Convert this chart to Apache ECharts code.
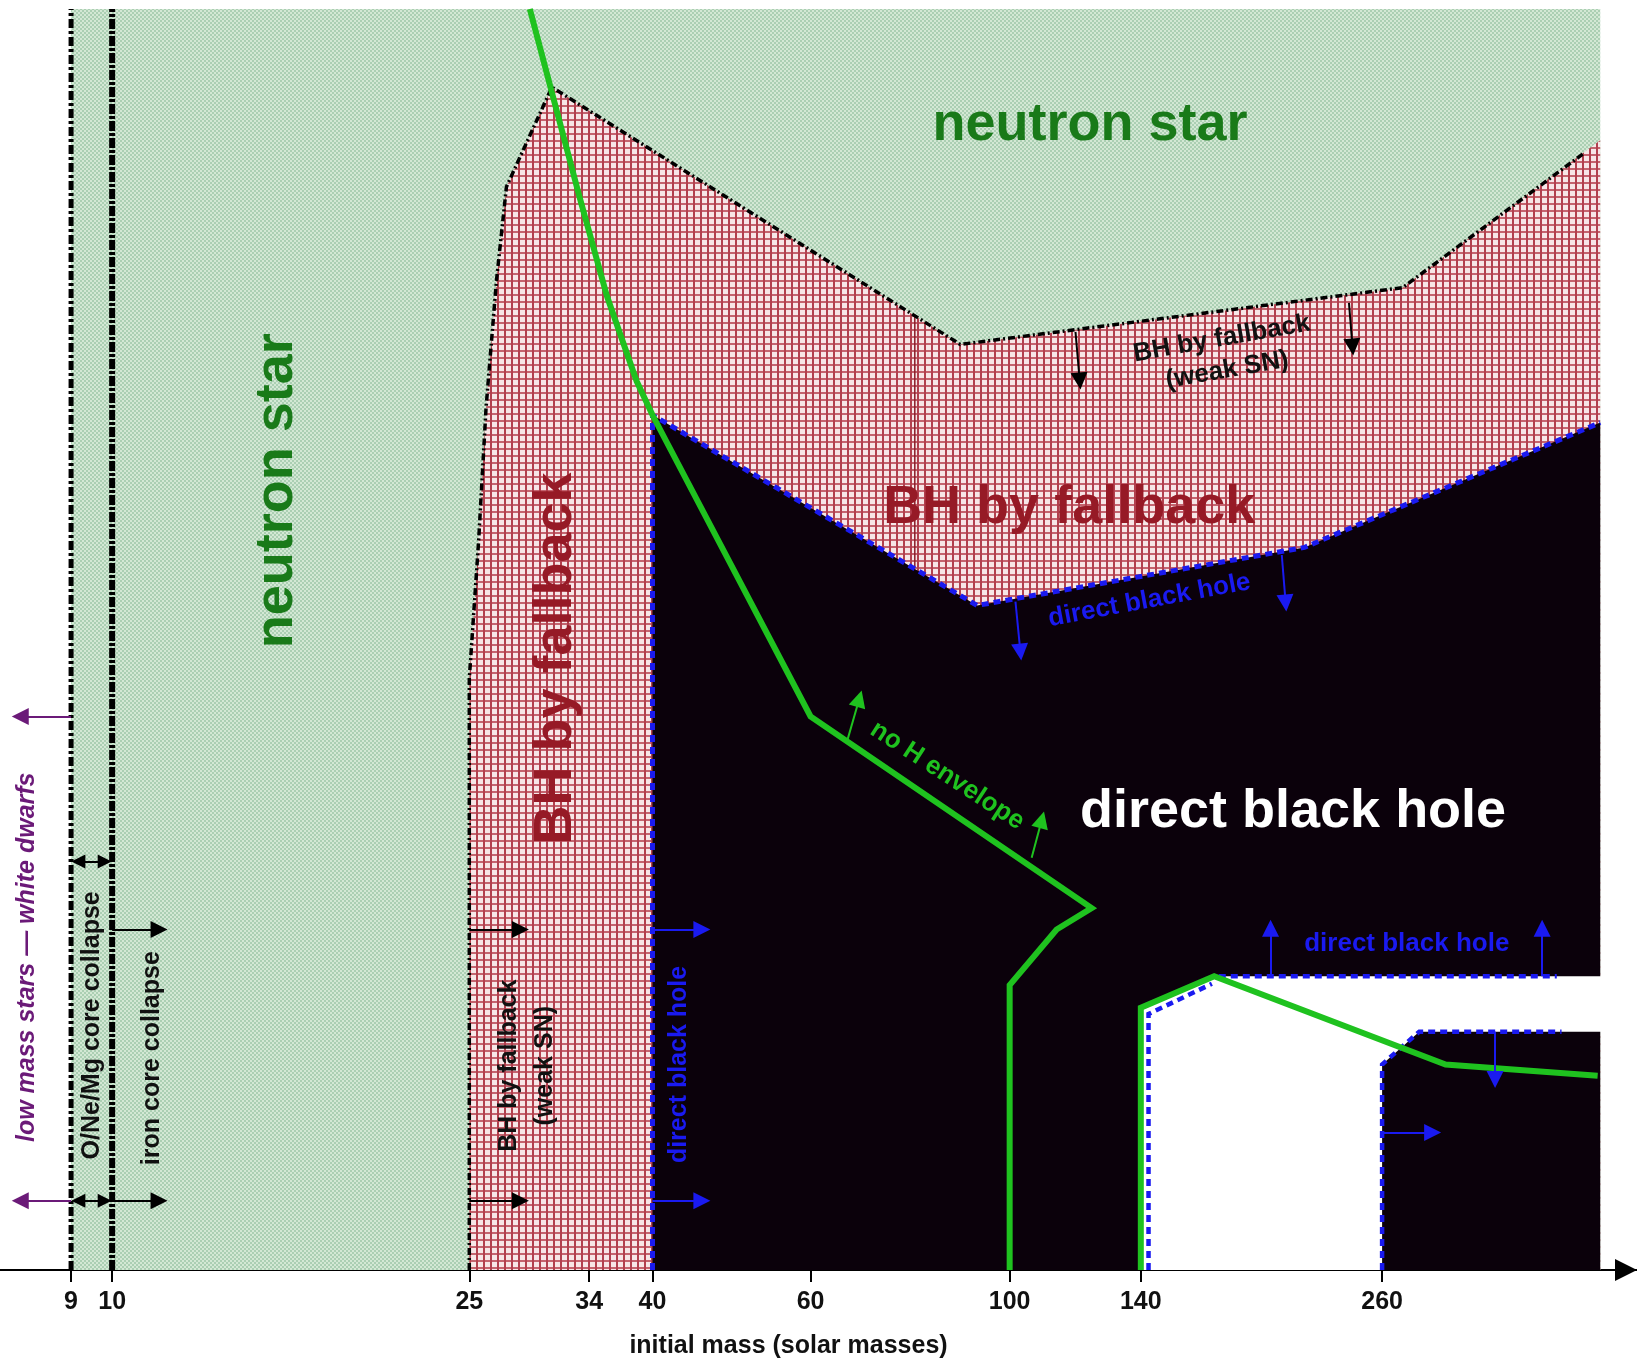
<!DOCTYPE html>
<html>
<head>
<meta charset="utf-8">
<title>Remnants of massive single stars</title>
<script src="https://cdn.jsdelivr.net/npm/echarts@6/dist/echarts.min.js"></script>
<style>
  html, body { margin: 0; padding: 0; background: #ffffff; }
  #chart { width: 1637px; height: 1364px; }
</style>
</head>
<body>
<div id="chart"></div>
<script>
// ---- axis: initial mass (solar masses), drawn on a logarithmic scale ----
const massTicks = [9, 10, 25, 34, 40, 60, 100, 140, 260];
const massRange = [7.5, 500];

// ---- remnant regions: [initial mass, level (0 = bottom, 100 = top)] ----
const neutronStarRegion = [[9, 0], [9, 100], [455, 100], [455, 0]];
const fallbackRegion = [[25, 0], [25, 46.9], [25.6, 57.7], [26.1, 68.4], [26.8, 78.4], [27.5, 85.9],
  [30.9, 93.8], [88.1, 73.4], [274, 77.9], [455, 89.6], [455, 0]];
const directBHRegion = [[40, 0], [40, 67.8], [92, 52.7], [213, 57.3], [455, 67.2], [455, 0]];
const pairRegion = [[140, 0], [140, 20.8], [169, 23.3], [460, 23.3], [460, 18.9], [286, 18.9], [260, 16.3], [260, 0]];

// ---- boundaries ----
const oneMgLimit = [[9, 0], [9, 100]];
const ironLimit = [[10, 0], [10, 100]];
const fallbackEdge = [[25, 0], [25, 46.9], [25.6, 57.7], [26.1, 68.4], [26.8, 78.4], [27.5, 85.9],
  [30.9, 93.8], [88.1, 73.4], [274, 77.9], [437, 88.6]];
const fallbackSeam = [[78.4, 75.6], [78.4, 55.7]];
const directEdge = [[40, 0], [40, 67.8], [92, 52.7], [213, 57.3], [455, 67.2]];
const pairEdgeLeft = [[142.8, 0], [142.8, 20.3], [168, 22.7]];
const pairEdgeTop = [[171, 23.3], [407, 23.3]];
const pairEdgeRight = [[260, 0], [260, 16.3], [286, 18.9], [412, 18.9]];
const noHEnvelopeUpper = [[29.2, 100], [31.0, 93.0], [33.2, 85.0], [35.6, 77.2], [38.4, 70.5], [40, 67.8],
  [60, 43.9], [123.4, 28.7], [112.8, 27.0], [100, 22.6], [100, 0]];
const noHEnvelopeLower = [[140, 0], [140, 20.8], [169, 23.3], [306, 16.3], [452, 15.4]];

// ---- arrows: [from mass, from level, to mass, to level] ----
const purpleArrows = [[9, 43.9, 7.9, 43.9], [9, 5.5, 7.9, 5.5]];
const blackDoubleArrows = [[9.17, 32.4, 9.81, 32.4], [9.17, 5.5, 9.81, 5.5]];
const blackArrows = [[10, 27, 11.28, 27], [10, 5.5, 11.28, 5.5], [25, 27, 28.5, 27], [25, 5.5, 28.5, 5.5],
  [118.4, 74.4, 119.7, 70.5], [238.8, 76.7, 241, 73.2]];
const blueArrows = [[40, 27, 45.4, 27], [40, 5.5, 45.4, 5.5], [260, 10.9, 296, 10.9],
  [195.3, 23.3, 195.3, 27.1], [392, 23.3, 392, 27.1], [347.4, 18.9, 347.4, 15.1],
  [101.5, 53.0, 102.8, 49.0], [201, 56.7, 203, 52.9]];
const greenArrows = [[66, 42.1, 68, 45.3], [105.8, 32.7, 108.6, 35.7]];

// ---- labels ----
const GREEN_DARK = '#197a19', RED_DARK = '#961a26', BLUE = '#1a1af0', GREEN = '#1fc21f', PURPLE = '#6b1a78';
const labels = [
  { text: 'neutron star', at: [122.9, 90.8], rotate: 0, size: 54, color: GREEN_DARK },
  { text: 'neutron star', at: [15.25, 61.8], rotate: 90, size: 54, color: GREEN_DARK },
  { text: 'BH by fallback', at: [31.2, 48.5], rotate: 90, size: 54, color: RED_DARK },
  { text: 'BH by fallback', at: [116.5, 60.4], rotate: 0, size: 54, color: RED_DARK },
  { text: 'direct black hole', at: [206.9, 36.3], rotate: 0, size: 54, color: '#ffffff' },
  { text: 'BH by fallback\n(weak SN)', at: [173.5, 72.6], rotate: 10, size: 26, color: '#111111', lh: 32 },
  { text: 'direct black hole', at: [143.1, 53.1], rotate: 10.5, size: 26, color: BLUE },
  { text: 'no H envelope', at: [85.2, 39.2], rotate: -33, size: 26, color: GREEN },
  { text: 'direct black hole', at: [277, 25.9], rotate: 0, size: 26, color: BLUE },
  { text: 'low mass stars \u2014 white dwarfs', at: [8.04, 24.8], rotate: 90, size: 25, color: PURPLE, italic: true },
  { text: 'O/Ne/Mg core collapse', at: [9.49, 19.4], rotate: 90, size: 25, color: '#111111' },
  { text: 'iron core collapse', at: [11.07, 16.8], rotate: 90, size: 25, color: '#111111' },
  { text: 'BH by fallback\n(weak SN)', at: [29.0, 16.2], rotate: 90, size: 25, color: '#111111', lh: 36 },
  { text: 'direct black hole', at: [42.8, 16.3], rotate: 90, size: 25, color: BLUE }
];

const FONT = '"Liberation Sans", Arial, Helvetica, sans-serif';
const toAxis = p => [Math.log10(p[0]), p[1]];

// fill textures
function greenTexture() {
  const c = document.createElement('canvas');
  c.width = 4; c.height = 4;
  const g = c.getContext('2d');
  g.fillStyle = '#d3e8d4'; g.fillRect(0, 0, 4, 4);
  g.fillStyle = '#abcfb3'; g.fillRect(0, 0, 2, 2); g.fillRect(2, 2, 2, 2);
  return { image: c, repeat: 'repeat' };
}
function redTexture() {
  const c = document.createElement('canvas');
  c.width = 7; c.height = 7;
  const g = c.getContext('2d');
  g.fillStyle = '#f7e6e7'; g.fillRect(0, 0, 7, 7);
  g.fillStyle = '#c4646f'; g.fillRect(0, 0, 7, 2);
  g.fillStyle = '#b2404e'; g.fillRect(0, 0, 2, 7);
  return { image: c, repeat: 'repeat' };
}

function regionSeries(name, pts, fill, z) {
  return {
    type: 'custom', name, coordinateSystem: 'cartesian2d', z, silent: true,
    data: [toAxis(pts[0])],
    renderItem: (params, api) => ({
      type: 'polygon',
      shape: { points: pts.map(p => api.coord(toAxis(p))) },
      style: { fill }
    })
  };
}
function pathSeries(name, pts, color, width, type, z) {
  return {
    type: 'line', name, data: pts.map(toAxis), showSymbol: false, symbol: 'none', z, silent: true,
    clip: false, animation: false,
    lineStyle: { color, width, type, cap: 'butt', join: 'miter', opacity: 1 }
  };
}
function arrowSeries(name, list, color, both, z) {
  return {
    type: 'lines', name, coordinateSystem: 'cartesian2d', z, silent: true,
    symbol: both ? ['triangle', 'triangle'] : ['none', 'triangle'],
    symbolSize: both ? [14, 14] : [0, 17],
    lineStyle: { color, width: 2, opacity: 1, curveness: 0 },
    data: list.map(a => ({ coords: [toAxis([a[0], a[1]]), toAxis([a[2], a[3]])] }))
  };
}

const tickValues = massTicks.map(m => Math.log10(m));

const option = {
  animation: false,
  backgroundColor: '#ffffff',
  grid: { left: 0, right: 0, top: 9, bottom: 94, containLabel: false, outerBoundsMode: 'none' },
  xAxis: {
    type: 'value',
    min: Math.log10(massRange[0]),
    max: Math.log10(massRange[1]),
    axisLine: {
      show: true, onZero: false,
      symbol: ['none', 'triangle'], symbolSize: [22, 22], symbolOffset: [0, -11],
      lineStyle: { color: '#000000', width: 2 }
    },
    axisTick: { show: true, inside: false, length: 12, customValues: tickValues, lineStyle: { color: '#000000', width: 2 } },
    axisLabel: {
      show: true, customValues: tickValues, margin: 20,
      formatter: v => String(Math.round(Math.pow(10, v))),
      fontSize: 25, fontWeight: 'bold', color: '#111111', fontFamily: FONT
    },
    splitLine: { show: false },
    name: 'initial mass (solar masses)',
    nameLocation: 'middle', nameGap: 64,
    nameTextStyle: { fontSize: 25, fontWeight: 'bold', color: '#111111', fontFamily: FONT, padding: [0, 60, 0, 0] }
  },
  yAxis: { type: 'value', min: 0, max: 100, show: false, splitLine: { show: false } },
  series: [
    regionSeries('neutron star', neutronStarRegion, greenTexture(), 1),
    regionSeries('BH by fallback', fallbackRegion, redTexture(), 2),
    regionSeries('direct black hole', directBHRegion, '#0b010b', 3),
    regionSeries('no remnant', pairRegion, '#ffffff', 4),
    pathSeries('fallback seam', fallbackSeam, '#8a1c28', 1.5, 'solid', 5),
    pathSeries('O/Ne/Mg limit', oneMgLimit, '#000000', 5, [9, 3, 3, 3], 6),
    pathSeries('iron core limit', ironLimit, '#000000', 6, [10, 2, 3, 2], 6),
    pathSeries('fallback edge', fallbackEdge, '#000000', 3.5, [7, 3, 2, 3], 6),
    pathSeries('direct BH edge', directEdge, BLUE, 5, [7, 5], 7),
    pathSeries('pair edge left', pairEdgeLeft, BLUE, 4.5, [7, 5], 7),
    pathSeries('pair edge top', pairEdgeTop, BLUE, 4.5, [7, 5], 7),
    pathSeries('pair edge right', pairEdgeRight, BLUE, 4.5, [7, 5], 7),
    pathSeries('no H envelope', noHEnvelopeUpper, GREEN, 6, 'solid', 8),
    pathSeries('no H envelope (lower)', noHEnvelopeLower, GREEN, 6, 'solid', 8),
    arrowSeries('purple arrows', purpleArrows, PURPLE, false, 9),
    arrowSeries('black double arrows', blackDoubleArrows, '#000000', true, 9),
    arrowSeries('black arrows', blackArrows, '#000000', false, 9),
    arrowSeries('blue arrows', blueArrows, BLUE, false, 9),
    arrowSeries('green arrows', greenArrows, GREEN, false, 9),
    {
      type: 'scatter', name: 'labels', z: 20, silent: true, symbolSize: 1,
      itemStyle: { color: 'rgba(0,0,0,0)', opacity: 1 },
      data: labels.map(l => ({
        value: toAxis(l.at),
        label: {
          show: true, position: 'inside', formatter: l.text, rotate: l.rotate, opacity: 1,
          fontSize: l.size, fontWeight: 'bold', fontStyle: l.italic ? 'italic' : 'normal',
          color: l.color, fontFamily: FONT, lineHeight: l.lh || Math.round(l.size * 1.15),
          align: 'center', verticalAlign: 'middle', textBorderWidth: 0
        }
      }))
    }
  ]
};

const chart = echarts.init(document.getElementById('chart'), null, { renderer: 'canvas' });
chart.setOption(option);
</script>
</body>
</html>
